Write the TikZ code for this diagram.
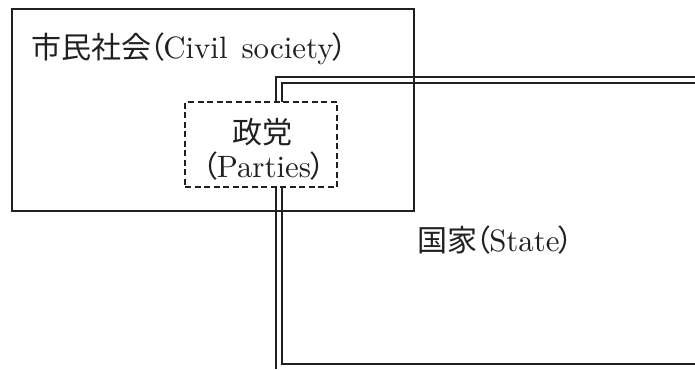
\documentclass[tikz,border=0pt]{standalone}
\usepackage{fontspec}
\setmainfont{lmroman10-regular.otf}[Scale=1.03]
\newfontfamily\cjk{Noto Sans CJK JP}
\definecolor{ink}{HTML}{231F20}
\newcommand\zlp{\hspace{-0.52em}{\cjk （}\hspace{-0.06em}}
\newcommand\zrp{\hspace{-0.06em}{\cjk ）}}
\begin{document}
\begin{tikzpicture}[x=1pt,y=-1pt,
  statelinestyle/.style={draw=ink,line width=1.3pt},
  civilbox/.style={draw=ink,line width=1.4pt,minimum width=402pt,minimum height=202pt,inner sep=0pt},
  partybox/.style={draw=ink,fill=white,line width=1.2pt,dash pattern=on 6pt off 3.5pt,minimum width=152pt,minimum height=85pt,inner sep=0pt},
  lbl/.style={text=ink,inner sep=0pt,font=\fontsize{30}{34}\selectfont}]
\useasboundingbox (0,0) rectangle (695,369);
% State: double line, open to the right and bottom
\draw[statelinestyle] (276,369) -- (276,77) -- (695,77);
\draw[statelinestyle] (695,83) -- (282,83) -- (282,364) -- (695,364);
% Civil society
\node[civilbox] (civil) at (213,110) {};
% Parties
\node[partybox] (parties) at (261,144.5) {};
\node[lbl,anchor=base west] (civiltext) at (31,59) {{\cjk 市民社会}\zlp Civil\hspace{0.45em}society\zrp};
\node[lbl,anchor=base] (partytextA) at (262,143) {\cjk 政党};
\node[lbl,anchor=base] (partytextB) at (272,177) {\zlp Parties\zrp};
\node[lbl,anchor=base west] (statetext) at (417,251) {{\cjk 国家}\zlp State\zrp};
\end{tikzpicture}
\end{document}
